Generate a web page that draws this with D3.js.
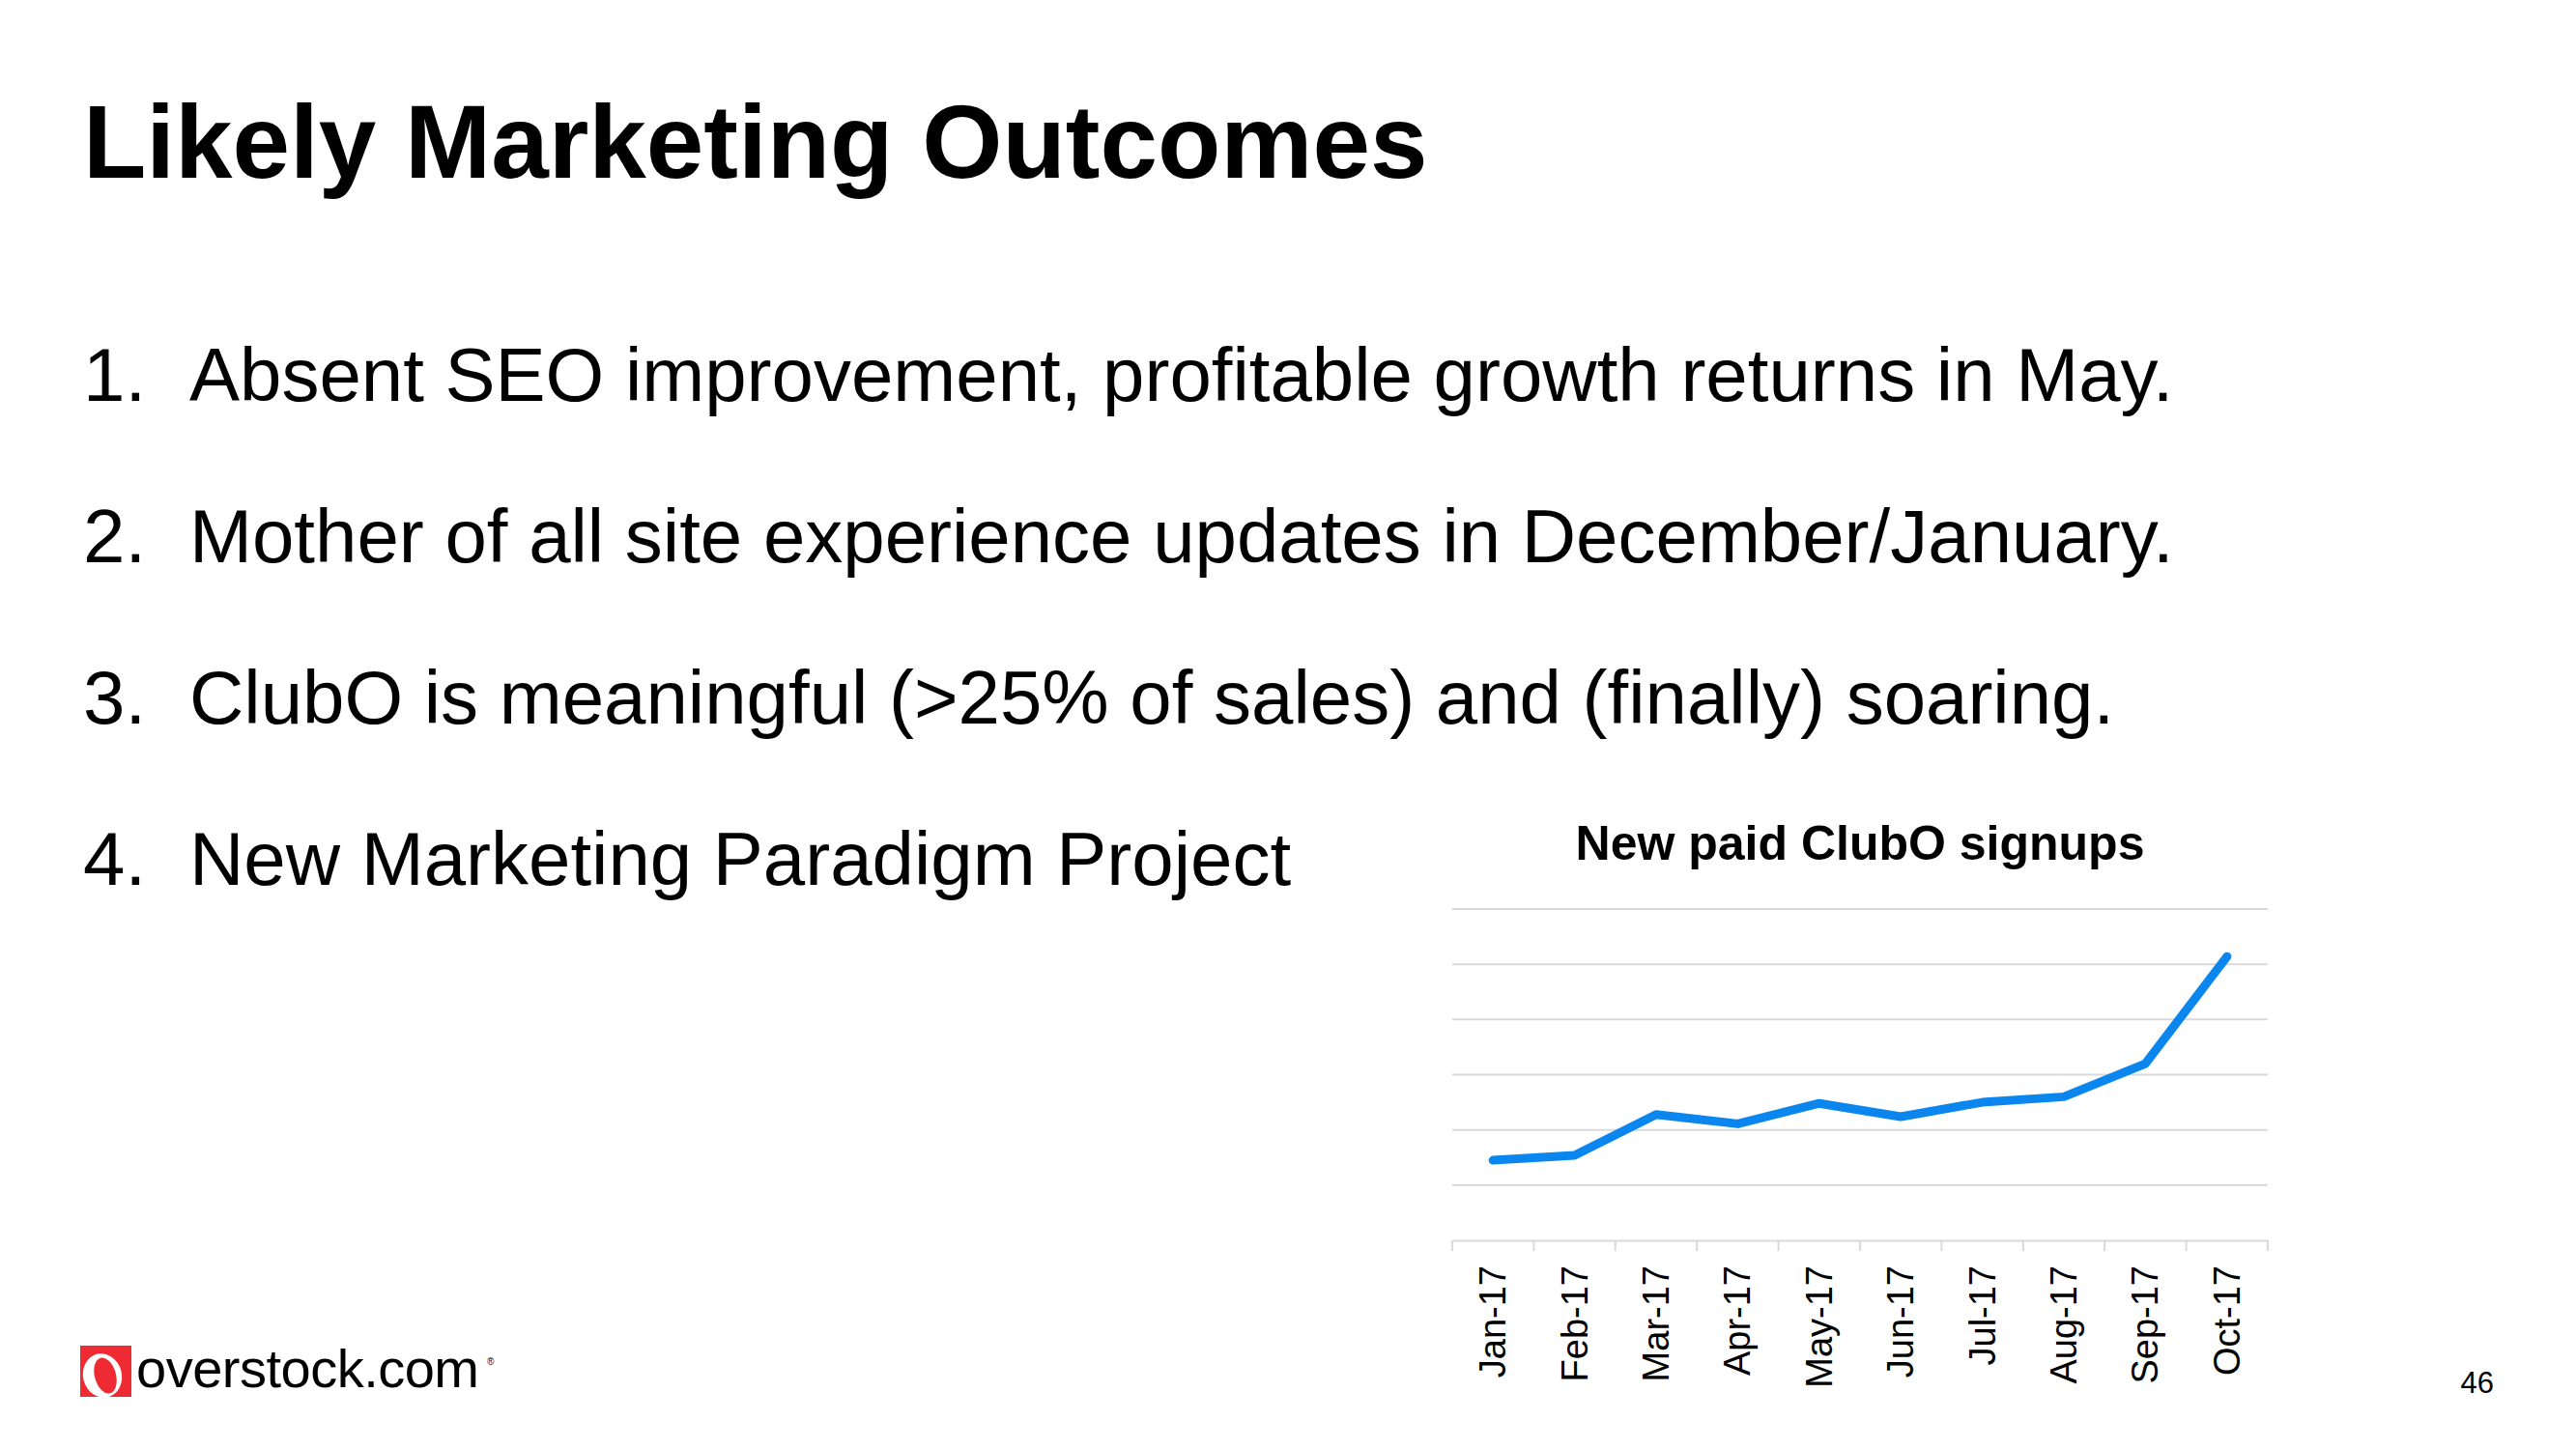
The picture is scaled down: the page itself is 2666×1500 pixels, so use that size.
<!DOCTYPE html>
<html>
<head>
<meta charset="utf-8">
<script src="https://cdn.jsdelivr.net/npm/d3@7"></script>
<style>
  html, body { margin: 0; padding: 0; background: #fff; }
  svg { display: block; font-family: "Liberation Sans", Arial, sans-serif; }
</style>
</head>
<body>
<script>
// ---- data ----
const slideTitle = "Likely Marketing Outcomes";
const bullets = [
  "Absent SEO improvement, profitable growth returns in May.",
  "Mother of all site experience updates in December/January.",
  "ClubO is meaningful (>25% of sales) and (finally) soaring.",
  "New Marketing Paradigm Project"
];
const chartTitle = "New paid ClubO signups";
const months = ["Jan-17","Feb-17","Mar-17","Apr-17","May-17","Jun-17","Jul-17","Aug-17","Sep-17","Oct-17"];
const signups = [1.45, 1.54, 2.28, 2.11, 2.48, 2.24, 2.50, 2.60, 3.20, 5.14];
const yTicks = [0, 1, 2, 3, 4, 5, 6];
const pageNumber = "46";

// ---- drawing ----
(function () {
const W = 2666, H = 1500;
const svg = d3.select("body").append("svg").attr("width", W).attr("height", H);

svg.append("text").attr("x", 86).attr("y", 184)
  .attr("font-size", 107).attr("font-weight", "bold").attr("fill", "#000")
  .text(slideTitle);

const bl = svg.append("g");
bullets.forEach((b, i) => {
  const yy = 415 + i * 167;
  bl.append("text").attr("x", 86).attr("y", yy).attr("font-size", 78).attr("fill", "#000").text((i + 1) + ".");
  bl.append("text").attr("x", 196).attr("y", yy).attr("font-size", 78).attr("fill", "#000").text(b);
});

// chart
const pL = 1503, pR = 2347, pT = 941, pB = 1284;
const x = d3.scaleBand().domain(months).range([pL, pR]);
const y = d3.scaleLinear().domain([0, 6]).range([pB, pT]);

const g = svg.append("g");
g.append("text").attr("x", (pL + pR) / 2).attr("y", 890)
  .attr("text-anchor", "middle").attr("font-size", 50).attr("font-weight", "bold")
  .text(chartTitle);

g.append("g").selectAll("line").data(yTicks.filter(d => d > 0)).join("line")
  .attr("x1", pL).attr("x2", pR)
  .attr("y1", d => y(d)).attr("y2", d => y(d))
  .attr("stroke", "#d9d9d9").attr("stroke-width", 2);

const xAxis = g.append("g").attr("transform", `translate(0,${pB})`)
  .call(d3.axisBottom(x).tickSize(0).tickFormat("").tickSizeOuter(0));
xAxis.select(".domain").attr("stroke", "#d9d9d9").attr("stroke-width", 2);
xAxis.selectAll(".tick").remove();
// boundary tick marks
const bounds = months.map(m => x(m)).concat([pR]);
g.append("g").selectAll("line").data(bounds).join("line")
  .attr("x1", d => d).attr("x2", d => d)
  .attr("y1", pB).attr("y2", pB + 11)
  .attr("stroke", "#d9d9d9").attr("stroke-width", 2);

g.append("g").selectAll("text").data(months).join("text")
  .attr("transform", d => `translate(${x(d) + x.bandwidth() / 2 + 13},1310) rotate(-90)`)
  .attr("text-anchor", "end").attr("font-size", 38).attr("fill", "#000")
  .text(d => d);

const line = d3.line().x((d, i) => x(months[i]) + x.bandwidth() / 2).y(d => y(d));
g.append("path").datum(signups).attr("d", line)
  .attr("fill", "none").attr("stroke", "#0B86EE").attr("stroke-width", 9)
  .attr("stroke-linecap", "round").attr("stroke-linejoin", "round");

// logo
const lg = svg.append("g");
lg.append("rect").attr("x", 83).attr("y", 1393).attr("width", 53).attr("height", 53).attr("fill", "#EE2A33");
lg.append("ellipse").attr("cx", 106).attr("cy", 1424).attr("rx", 20).attr("ry", 23)
  .attr("transform", "rotate(-15,106,1424)").attr("fill", "#fff");
lg.append("ellipse").attr("cx", 109).attr("cy", 1424).attr("rx", 11).attr("ry", 19)
  .attr("transform", "rotate(-15,109,1424)").attr("fill", "#EE2A33");
lg.append("text").attr("x", 141).attr("y", 1436).attr("font-size", 56)
  .attr("font-family", "'Liberation Sans', sans-serif")
  .attr("letter-spacing", -0.5).attr("fill", "#000").text("overstock.com");
lg.append("text").attr("x", 504).attr("y", 1413).attr("font-size", 10).attr("fill", "#000").text("®");

svg.append("text").attr("x", 2581).attr("y", 1442).attr("text-anchor", "end")
  .attr("font-size", 31).attr("fill", "#000").text(pageNumber);
})();
</script>
</body>
</html>
